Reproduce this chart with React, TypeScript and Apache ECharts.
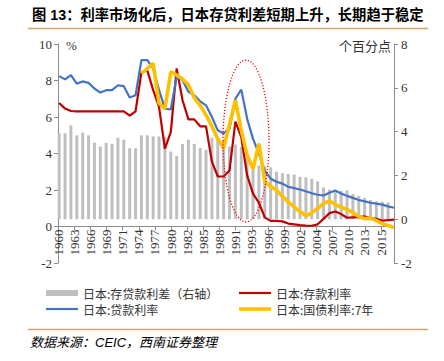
import React, { useEffect, useRef } from 'react';
import * as echarts from 'echarts';

// ---- data (annual) ----
const FIRST_YEAR = 1960;
// 日本:存贷款利差（右轴）1960–2016
const spreadValues = [
  3.93, 3.93, 4.28, 3.83, 3.95, 3.83, 3.49, 3.32, 3.49, 3.44,
  3.72, 3.63, 3.24, 3.24, 3.83, 3.83, 3.78, 3.78, 3.75, 3.09,
  2.88, 3.44, 3.63, 3.44, 3.26, 3.17, 3.72, 3.72, 3.29, 3.32,
  3.41, 3.3, 2.9, 2.55, 2.45, 2.4, 2.37, 2.17, 2.1, 2.07,
  2.04, 1.94, 1.91, 1.84, 1.73, 1.45, 1.35, 1.3, 1.3, 1.32,
  1.15, 1.07, 0.97, 0.88, 0.81, 0.8, 0.77,
];
// 日本:存款利率 1960–2017
const depositRates = [
  6.77, 6.46, 6.33, 6.31, 6.31, 6.31, 6.31, 6.31, 6.31, 6.31,
  6.31, 6.31, 6.07, 6.31, 8.45, 8.55, 7.47, 6.55, 4.26, 5.17,
  8.66, 6.92, 5.87, 5.87, 5.49, 5.49, 3.55, 2.74, 2.74, 3.07,
  5.75, 4.9, 2.8, 1.8, 1.3, 0.5, 0.31, 0.31, 0.28, 0.16,
  0.12, 0.08, 0.05, 0.04, 0.12, 0.42, 0.73, 0.82, 0.68, 0.48,
  0.5, 0.51, 0.55, 0.46, 0.42, 0.32, 0.35, 0.38,
];
// 日本:贷款利率 1960–2017
const loanRates = [
  8.24, 8.06, 8.29, 7.83, 7.95, 7.87, 7.56, 7.34, 7.47, 7.47,
  7.74, 7.69, 7.07, 7.19, 9.12, 9.12, 8.66, 7.47, 6.46, 6.41,
  8.2, 8.02, 7.38, 7.19, 6.86, 6.64, 6.0, 5.27, 5.1, 5.36,
  7.0, 7.5, 5.9, 4.8, 4.0, 3.05, 2.62, 2.45, 2.35, 2.18,
  2.1, 2.03, 1.93, 1.82, 1.74, 1.7, 1.85, 1.97, 1.8, 1.68,
  1.57, 1.45, 1.38, 1.3, 1.25, 1.2, 1.1, 1.03,
];
// 日本:国债利率:7年 1974–2017
const BOND_FIRST_YEAR = 1974;
const bondRates = [
  8.39, 8.65, 8.94, 6.74, 6.46, 8.48, 8.3, 8.08, 7.75, 7.05,
  6.64, 6.1, 5.5, 4.8, 4.3, 5.6, 6.92, 5.27, 3.9, 3.16,
  4.54, 2.44, 2.2, 1.98, 1.66, 1.35, 1.08, 0.82, 0.58, 0.75,
  0.98, 1.25, 1.41, 1.2, 1.07, 0.93, 0.77, 0.54, 0.43, 0.46,
  0.32, 0.15, 0.05, -0.05,
];

const NAME_SPREAD = '日本:存贷款利差（右轴）';
const NAME_DEPOSIT = '日本:存款利率';
const NAME_LOAN = '日本:贷款利率';
const NAME_BOND = '日本:国债利率:7年';

// x axis: years measured from the first tick label position
const X_OFFSET = 0.2;
const X_INTERVAL = 2.75;
const X_MAX = 57.2;
const xOf = (year: number) => year - FIRST_YEAR + X_OFFSET;
const tickLabel = (v: number) => String(Math.floor(1960.75 + v));

const toPairs = (first: number, vals: number[]) =>
  vals.map((v, i) => [xOf(first + i), v]);

const AXIS_COLOR = '#8C8C8C';
const LABEL_COLOR = '#333333';
const SERIF = '"Liberation Serif", "DejaVu Serif", serif';
const CJK = '"Noto Sans CJK SC", sans-serif';

const GRID_TOP = 44;
const GRID_BOTTOM = 98;
const GRID_HEIGHT = 361 - GRID_TOP - GRID_BOTTOM;
const LEFT_MIN = -2;
const LEFT_MAX = 10;
// distance from grid bottom to the left axis' zero line
const ZERO_OFFSET = (GRID_HEIGHT * (0 - LEFT_MIN)) / (LEFT_MAX - LEFT_MIN);

export default function App() {
  const ref = useRef<HTMLDivElement>(null);

  useEffect(() => {
    if (!ref.current) return;
    const chart = echarts.init(ref.current, undefined, { renderer: 'svg' });
    const legendText = { fontSize: 12, color: '#333', fontFamily: CJK };
    chart.setOption({
      animation: false,
      backgroundColor: '#ffffff',
      grid: { left: 58, right: 50, top: GRID_TOP, bottom: GRID_BOTTOM, containLabel: false },
      xAxis: {
        type: 'value',
        position: 'bottom',
        offset: -ZERO_OFFSET,
        min: 0,
        max: X_MAX,
        interval: X_INTERVAL,
        axisLine: { show: true, onZero: false, lineStyle: { color: AXIS_COLOR, width: 1 } },
        axisTick: { show: true, length: 4, lineStyle: { color: AXIS_COLOR } },
        splitLine: { show: false },
        axisLabel: {
          rotate: 90,
          margin: 3,
          fontSize: 13,
          fontFamily: SERIF,
          color: LABEL_COLOR,
          showMaxLabel: false,
          formatter: (v: number) => (v > 56 ? '' : tickLabel(v)),
        },
      },
      yAxis: [
        {
          type: 'value',
          min: LEFT_MIN,
          max: LEFT_MAX,
          interval: 2,
          position: 'left',
          axisLine: { show: true, lineStyle: { color: AXIS_COLOR } },
          axisTick: { show: true, length: 4, lineStyle: { color: AXIS_COLOR } },
          splitLine: { show: false },
          axisLabel: { fontSize: 13, fontFamily: SERIF, color: LABEL_COLOR, margin: 6 },
        },
        {
          type: 'value',
          min: -2,
          max: 8,
          interval: 2,
          position: 'right',
          axisLine: { show: true, lineStyle: { color: AXIS_COLOR } },
          axisTick: { show: true, length: 4, lineStyle: { color: AXIS_COLOR } },
          splitLine: { show: false },
          axisLabel: { fontSize: 13, fontFamily: SERIF, color: LABEL_COLOR, margin: 7 },
        },
      ],
      legend: [
        {
          left: 41,
          top: 282,
          orient: 'vertical',
          itemWidth: 32,
          itemHeight: 14,
          itemGap: 4,
          itemStyle: { borderWidth: 0 },
          textStyle: legendText,
          data: [
            { name: NAME_SPREAD, icon: 'path://M0,0H32V6H0Z' },
            { name: NAME_LOAN, icon: 'path://M0,0H32V2.2H0Z' },
          ],
        },
        {
          left: 234,
          top: 282,
          orient: 'vertical',
          itemWidth: 32,
          itemHeight: 14,
          itemGap: 4,
          itemStyle: { borderWidth: 0 },
          textStyle: legendText,
          data: [
            { name: NAME_DEPOSIT, icon: 'path://M0,0H32V2.2H0Z' },
            { name: NAME_BOND, icon: 'path://M0,0H32V3.6H0Z' },
          ],
        },
      ],
      series: [
        {
          name: NAME_SPREAD,
          type: 'bar',
          yAxisIndex: 1,
          barWidth: 3,
          itemStyle: { color: '#BFBFBF' },
          data: toPairs(FIRST_YEAR, spreadValues),
        },
        {
          name: NAME_DEPOSIT,
          type: 'line',
          yAxisIndex: 0,
          symbol: 'none',
          color: '#C00000',
          lineStyle: { color: '#C00000', width: 2.2 },
          data: toPairs(FIRST_YEAR, depositRates),
        },
        {
          name: NAME_LOAN,
          type: 'line',
          yAxisIndex: 0,
          symbol: 'none',
          color: '#4472C4',
          lineStyle: { color: '#4472C4', width: 2.2 },
          data: toPairs(FIRST_YEAR, loanRates),
        },
        {
          name: NAME_BOND,
          type: 'line',
          yAxisIndex: 0,
          symbol: 'none',
          color: '#FFC000',
          lineStyle: { color: '#FFC000', width: 3.6 },
          data: toPairs(BOND_FIRST_YEAR, bondRates),
        },
      ],
      graphic: [
        {
          type: 'text',
          x: 32,
          y: 15,
          style: {
            text: '图 13：利率市场化后，日本存贷利差短期上升，长期趋于稳定',
            font: 'bold 14.3px "Liberation Sans", "Noto Sans CJK SC", sans-serif',
            fill: '#000',
            verticalAlign: 'middle',
          },
        },
        {
          type: 'line',
          shape: { x1: 28, y1: 28.5, x2: 428, y2: 28.5 },
          style: { stroke: '#D6A463', lineWidth: 1.5 },
        },
        {
          type: 'text',
          x: 66,
          y: 45,
          style: { text: '%', font: '13px ' + SERIF, fill: LABEL_COLOR, verticalAlign: 'middle' },
        },
        {
          type: 'text',
          x: 391,
          y: 45,
          style: {
            text: '个百分点',
            font: '13px ' + CJK,
            fill: LABEL_COLOR,
            align: 'right',
            verticalAlign: 'middle',
          },
        },
        {
          type: 'ellipse',
          z: 100,
          shape: { cx: 246, cy: 141, rx: 23, ry: 81 },
          style: { fill: 'none', stroke: '#FF0000', lineWidth: 1.3, lineDash: [1.2, 1.8] },
        },
        {
          type: 'line',
          shape: { x1: 28, y1: 329.5, x2: 428, y2: 329.5 },
          style: { stroke: '#D6A463', lineWidth: 1.5 },
        },
        {
          type: 'text',
          x: 30,
          y: 342,
          style: {
            text: '数据来源：CEIC，西南证券整理',
            font: 'italic 13px "Liberation Sans", "Noto Sans CJK SC", sans-serif',
            fill: '#000',
            verticalAlign: 'middle',
          },
        },
      ],
    });
    return () => chart.dispose();
  }, []);

  return (
    <div
      ref={ref}
      style={{ position: 'fixed', left: 0, top: 0, width: 444, height: 361, background: '#fff' }}
    />
  );
}
